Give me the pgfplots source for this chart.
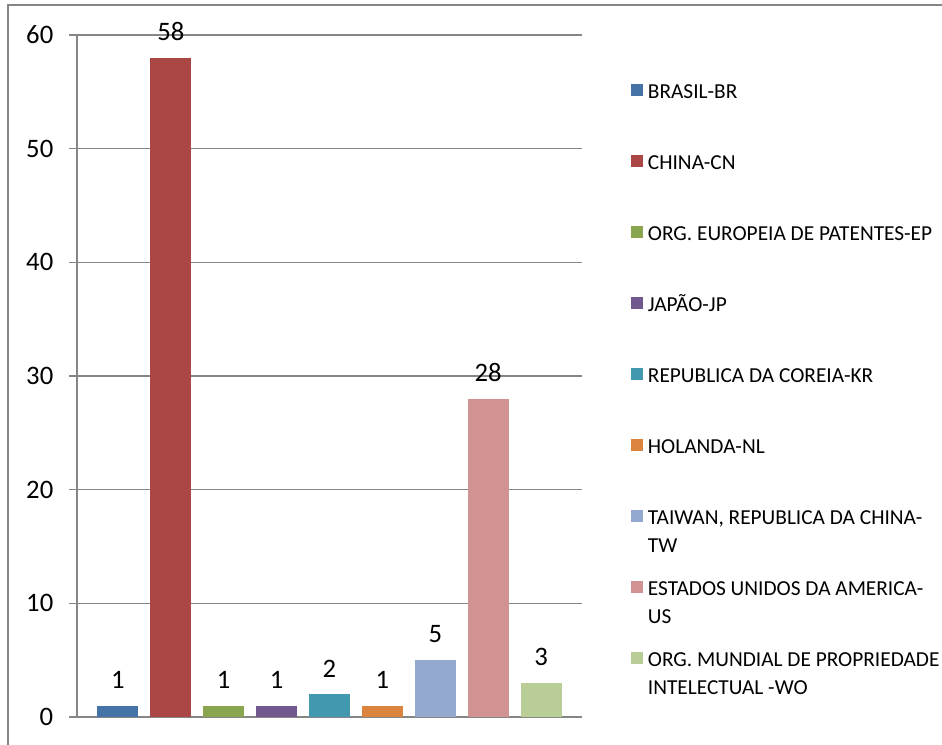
\documentclass[border=0pt]{standalone}
\usepackage{pgfplots}
\pgfplotsset{compat=1.18}
\usepackage{fontspec}
\setmainfont{Carlito}
\definecolor{c1}{HTML}{4572A7}
\definecolor{c2}{HTML}{AA4643}
\definecolor{c3}{HTML}{89A54E}
\definecolor{c4}{HTML}{71588F}
\definecolor{c5}{HTML}{4198AF}
\definecolor{c6}{HTML}{DB843D}
\definecolor{c7}{HTML}{93A9CF}
\definecolor{c8}{HTML}{D19392}
\definecolor{c9}{HTML}{B9CD96}
\definecolor{ln}{HTML}{868686}
\newcommand\lgone[1]{\raisebox{0pt}[14pt][4pt]{\hspace{3.75pt}#1}}
\newcommand\lgtwo[2]{\raisebox{0pt}[14pt][4pt]{\hspace{3.75pt}\parbox[t]{10cm}{\raggedright #1\\#2}}}
\begin{document}
\begin{tikzpicture}
\useasboundingbox (-57.75pt,-20.25pt) rectangle (648.75pt,537.75pt);
\begin{axis}[
  at={(0,0)}, anchor=south west,
  scale only axis,
  width=378.75pt, height=511.5pt,
  xmin=0.225, xmax=9.775,
  ymin=0, ymax=60,
  ytick={0,10,20,30,40,50,60},
  xtick=\empty,
  axis lines*=left,
  axis line style={ln, line width=1.1pt, -},
  ymajorgrids,
  grid style={ln, line width=1.1pt},
  major tick style={ln, line width=1.1pt},
  major tick length=6pt,
  tick align=outside,
  ytick pos=left,
  /pgf/number format/assume math mode=true,
  yticklabel style={anchor=east, inner sep=0pt, xshift=-11.6pt, font=\fontsize{20}{24}\selectfont},
  ybar,
  bar width=0.775,
  nodes near coords,
  every node near coord/.append style={anchor=base, yshift=12.9pt, inner sep=0pt, font=\fontsize{20}{24}\selectfont, black},
  legend style={at={(1.0964,0.935)}, anchor=north west, draw=none, fill=none, inner sep=0pt,
    row sep=37.8pt, nodes={inner sep=0pt, font=\fontsize{16}{21}\selectfont}},
  legend cell align=left,
  legend image code/.code={\fill[#1,draw=none] (0pt,-4.4pt) rectangle (9pt,4.6pt);},
]
\addplot[ybar, bar shift=0pt, fill=c1, draw=none] coordinates {(1,1)};
\addlegendentry{\lgone{BRASIL-BR}}
\addplot[ybar, bar shift=0pt, fill=c2, draw=none] coordinates {(2,58)};
\addlegendentry{\lgone{CHINA-CN}}
\addplot[ybar, bar shift=0pt, fill=c3, draw=none] coordinates {(3,1)};
\addlegendentry{\lgone{ORG. EUROPEIA DE PATENTES-EP}}
\addplot[ybar, bar shift=0pt, fill=c4, draw=none] coordinates {(4,1)};
\addlegendentry{\lgone{JAPÃO-JP}}
\addplot[ybar, bar shift=0pt, fill=c5, draw=none] coordinates {(5,2)};
\addlegendentry{\lgone{REPUBLICA DA COREIA-KR}}
\addplot[ybar, bar shift=0pt, fill=c6, draw=none] coordinates {(6,1)};
\addlegendentry{\lgone{HOLANDA-NL}}
\addplot[ybar, bar shift=0pt, fill=c7, draw=none] coordinates {(7,5)};
\addlegendentry{\lgtwo{TAIWAN, REPUBLICA DA CHINA-}{TW}}
\addplot[ybar, bar shift=0pt, fill=c8, draw=none] coordinates {(8,28)};
\addlegendentry{\lgtwo{ESTADOS UNIDOS DA AMERICA-}{US}}
\addplot[ybar, bar shift=0pt, fill=c9, draw=none] coordinates {(9,3)};
\addlegendentry{\lgtwo{ORG. MUNDIAL DE PROPRIEDADE}{INTELECTUAL -WO}}
\end{axis}
\draw[ln, line width=1.1pt] (-51.75pt,-25pt) -- (-51.75pt,534pt) -- (655pt,534pt);
\end{tikzpicture}
\end{document}
